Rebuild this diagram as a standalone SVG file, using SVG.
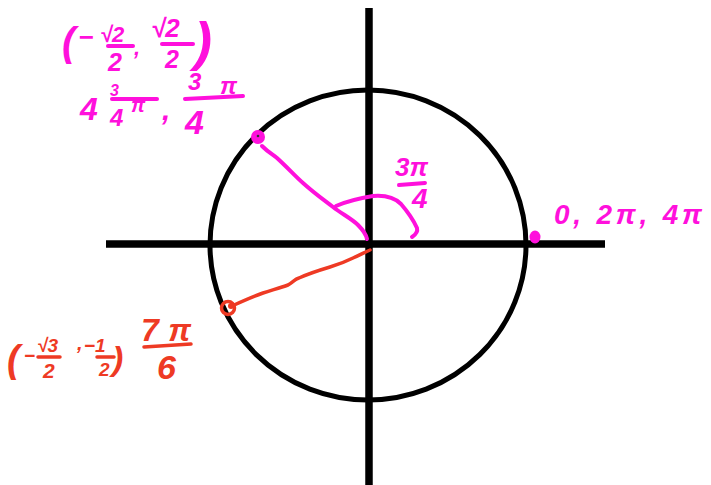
<svg xmlns="http://www.w3.org/2000/svg" width="711" height="485" viewBox="0 0 711 485">
<style>
.ax{stroke:#000;stroke-width:7.5;fill:none}
.circ{stroke:#000;stroke-width:5;fill:none}
.m{fill:#FF10DC;font-family:"Liberation Sans",Arial,sans-serif;font-style:italic;font-weight:bold}
.r{fill:#EE3A24;font-family:"Liberation Sans",Arial,sans-serif;font-style:italic;font-weight:bold}
.ml{stroke:#FF10DC;stroke-width:4;fill:none;stroke-linecap:round;stroke-linejoin:round}
.rl{stroke:#EE3A24;stroke-width:3.5;fill:none;stroke-linecap:round;stroke-linejoin:round}
</style>
<rect width="711" height="485" fill="#fff"/>
<g id="axes">
<line class="ax" x1="106" y1="244" x2="605" y2="244"/>
<line class="ax" x1="369" y1="8" x2="369" y2="485"/>
</g>
<g id="unit-circle">
<ellipse class="circ" cx="368" cy="245" rx="158" ry="155"/>
</g>
<g id="connectors">
<path class="ml" d="M262,146 C268,152 272,154 277,158 C288,168 295,176 303,183 C314,193 324,200 333,207 C342,214 352,219 358,225 C363,230 366,234 367,239"/>
<path class="ml" d="M336,206 C345,202 355,199 373,196 C385,195 395,198 401,204 C407,211 413,219 417,228 C418,232 415,235 412,237"/>
<path class="rl" d="M232,306 C243,301 252,297 263,293 C272,290 280,288 288,285 C293,282 295,279 299,278 C310,273 320,270 330,267 C340,264 347,261 353,258 C360,255 365,252 370,250"/>
</g>
<g id="point-3pi4">
<circle cx="258" cy="137" r="7" fill="#FF10DC"/>
<circle cx="258" cy="136" r="1.3" fill="#333"/>
</g>
<g id="point-0">
<ellipse cx="535" cy="237" rx="5.5" ry="6.5" fill="#FF10DC"/>
</g>
<g id="point-7pi6">
<circle cx="228" cy="308" r="6.5" fill="none" stroke="#EE3A24" stroke-width="3.5"/>
<circle cx="231" cy="306" r="3" fill="#EE3A24"/>
</g>
<g id="label-3pi4-coords">
<text class="m" x="62" y="56" font-size="40">(</text>
<text class="m" x="78" y="46" font-size="26">−</text>
<text class="m" x="100" y="42" font-size="22">√2</text>
<line class="ml" x1="108" y1="46" x2="133" y2="46"/>
<text class="m" x="108" y="71" font-size="25">2</text>
<text class="m" x="134" y="55" font-size="22">,</text>
<text class="m" x="151" y="37" font-size="26">√2</text>
<line class="ml" x1="162" y1="44" x2="193" y2="44"/>
<text class="m" x="165" y="68" font-size="25">2</text>
<text class="m" x="194" y="60" font-size="54">)</text>
<text class="m" x="80" y="120" font-size="32">4</text>
<text class="m" x="110" y="96" font-size="16">3</text>
<line class="ml" x1="112" y1="99" x2="157" y2="99"/>
<text class="m" x="110" y="126" font-size="24">4</text>
<text class="m" x="131" y="112" font-size="20">π</text>
<text class="m" x="162" y="120" font-size="30">,</text>
<text class="m" x="188" y="90" font-size="24">3</text>
<line class="ml" x1="185" y1="99" x2="243" y2="96"/>
<text class="m" x="220" y="94" font-size="24">π</text>
<text class="m" x="185" y="134" font-size="34">4</text>
</g>
<g id="label-angle">
<text class="m" x="395" y="176" font-size="26">3π</text>
<line class="ml" x1="399" y1="185" x2="425" y2="183"/>
<text class="m" x="412" y="208" font-size="28">4</text>
</g>
<g id="label-0">
<text class="m" x="554" y="224" font-size="28" textLength="148" lengthAdjust="spacing">0, 2π, 4π</text>
</g>
<g id="label-7pi6">
<text class="r" x="7" y="372" font-size="38">(</text>
<text class="r" x="24" y="362" font-size="19">−</text>
<text class="r" x="37" y="352" font-size="19">√3</text>
<line class="rl" x1="38" y1="357" x2="60" y2="357"/>
<text class="r" x="43" y="378" font-size="21">2</text>
<text class="r" x="77" y="350" font-size="20">,</text>
<text class="r" x="84" y="352" font-size="19">−1</text>
<line class="rl" x1="97" y1="357" x2="114" y2="357"/>
<text class="r" x="99" y="376" font-size="19">2</text>
<text class="r" x="112" y="370" font-size="34">)</text>
<text class="r" x="141" y="341" font-size="32" textLength="50" lengthAdjust="spacing">7π</text>
<line class="rl" x1="144" y1="347" x2="191" y2="344"/>
<text class="r" x="157" y="379" font-size="34">6</text>
</g>
</svg>
